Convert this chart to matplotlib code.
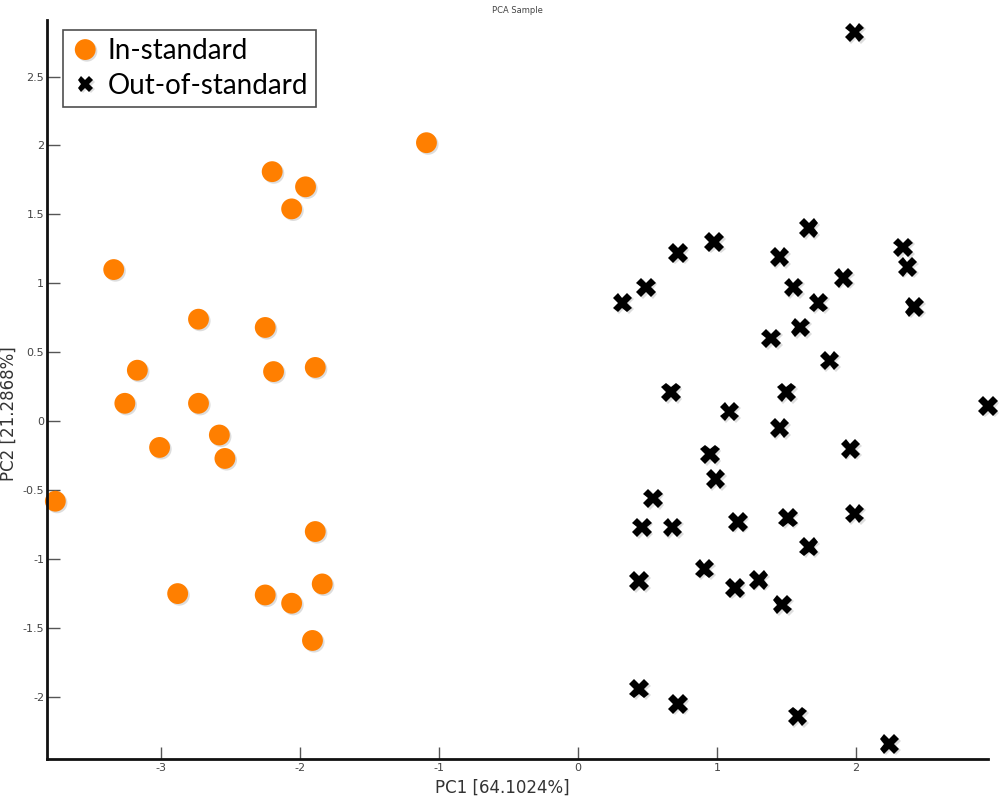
import matplotlib.pyplot as plt
import matplotlib.patheffects as pe
from matplotlib.ticker import FuncFormatter

plt.rcParams['axes.unicode_minus'] = False

# PCA scores
in_pc1 = [-3.76, -3.34, -3.17, -3.26, -3.01, -2.73, -2.73, -2.58, -2.54, -2.88, -2.25,
          -2.20, -2.19, -1.96, -2.06, -1.89, -1.89, -1.84, -2.25, -2.06, -1.91, -1.09]
in_pc2 = [-0.58, 1.10, 0.37, 0.13, -0.19, 0.74, 0.13, -0.10, -0.27, -1.25, 0.68,
          1.81, 0.36, 1.70, 1.54, 0.39, -0.80, -1.18, -1.26, -1.32, -1.59, 2.02]

out_pc1 = [1.99, 0.32, 0.49, 0.72, 0.98, 1.66, 1.45, 1.55, 1.91, 1.73, 1.60, 1.39, 1.81,
           2.34, 2.37, 2.42, 0.67, 1.50, 1.09, 2.95, 1.45, 1.96, 0.95, 0.99, 0.54, 0.46,
           0.68, 1.15, 1.51, 1.99, 1.66, 0.91, 0.44, 1.13, 1.30, 1.47, 0.44, 0.72, 1.58, 2.24]
out_pc2 = [2.82, 0.86, 0.97, 1.22, 1.30, 1.40, 1.19, 0.97, 1.04, 0.86, 0.68, 0.60, 0.44,
           1.26, 1.12, 0.83, 0.21, 0.21, 0.07, 0.11, -0.05, -0.20, -0.24, -0.42, -0.56, -0.77,
           -0.77, -0.73, -0.70, -0.67, -0.91, -1.07, -1.16, -1.21, -1.15, -1.33, -1.94, -2.05, -2.14, -2.34]

x_ticks = [-3, -2, -1, 0, 1, 2]
y_ticks = [-2, -1.5, -1, -0.5, 0, 0.5, 1, 1.5, 2, 2.5]

fig = plt.figure(figsize=(10, 7.99), dpi=100)
ax = fig.add_axes([0.047, 0.05, 0.941, 0.925])

shadow = [pe.SimplePatchShadow(offset=(1.2, -1.2), shadow_rgbFace='#aaaaaa', alpha=0.4), pe.Normal()]

ax.plot(in_pc1, in_pc2, 'o', color='#ff7f00', markersize=15, markeredgewidth=0,
        label='In-standard', path_effects=shadow, clip_on=False)
ax.plot(out_pc1, out_pc2, 'X', color='black', markersize=14, markeredgewidth=0,
        label='Out-of-standard', path_effects=shadow, clip_on=False)

ax.set_xlim(-3.82, 2.95)
ax.set_ylim(-2.45, 2.91)
ax.set_xticks(x_ticks)
ax.set_yticks(y_ticks)
fmt = FuncFormatter(lambda v, p: '%g' % v)
ax.xaxis.set_major_formatter(fmt)
ax.yaxis.set_major_formatter(fmt)
ax.tick_params(direction='in', length=9, width=1, color='#555555',
               labelsize=8, labelcolor='#444444', pad=3)
ax.tick_params(axis='y', pad=2)

for s in ['top', 'right']:
    ax.spines[s].set_visible(False)
for s in ['left', 'bottom']:
    ax.spines[s].set_linewidth(2)
    ax.spines[s].set_color('#111111')

ax.set_xlabel('PC1 [64.1024%]', fontsize=12, color='#333333')
ax.set_ylabel('PC2 [21.2868%]', fontsize=12, color='#333333')
ax.xaxis.set_label_coords(0.484, -0.027)
ax.yaxis.set_label_coords(-0.031, 0.468)
fig.text(0.517, 0.992, 'PCA Sample', ha='center', va='top', fontsize=6, color='#444444')

leg = ax.legend(loc='upper left', bbox_to_anchor=(0.017, 0.9865), borderaxespad=0,
                frameon=True, fancybox=False, edgecolor='#222222', handletextpad=0.3,
                borderpad=0.3, labelspacing=0.3, handlelength=1.0,
                prop={'family': 'Lato', 'size': 20})
leg.get_frame().set_linewidth(1.2)
leg.legend_handles[1].set_markersize(11)

fig.savefig('out.png', dpi=100)
